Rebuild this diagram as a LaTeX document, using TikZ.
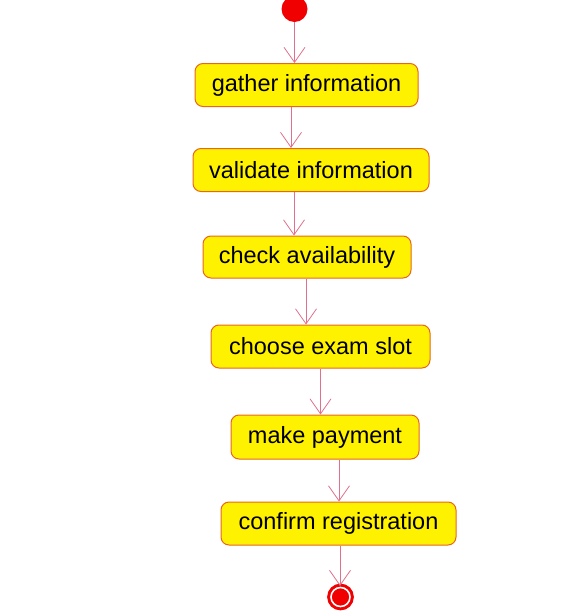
\documentclass[tikz,border=0pt]{standalone}
\usepackage{fontspec}
\setmainfont{Liberation Sans}
\usepackage{tikz}
\usetikzlibrary{arrows.meta}

\definecolor{boxline}{HTML}{E8661A}
\definecolor{flowline}{HTML}{E0708C}
\definecolor{dotred}{HTML}{F00000}

\begin{document}
\begin{tikzpicture}[x=1pt, y=-1pt,
    activity/.style={rectangle, rounded corners=8pt, draw=boxline, line width=1pt,
      fill=yellow, inner sep=0pt, minimum height=43pt, font=\fontsize{23.5}{26}\selectfont},
    flow/.style={draw=flowline, line width=0.8pt, -{Straight Barb[length=15pt, width=21pt, line width=0.8pt]}}]
  \useasboundingbox (0,0) rectangle (562,613);
  \node (start) [circle, fill=dotred, minimum size=26pt, inner sep=0pt] at (294.5,9) {};
  \node (gather) [activity, minimum width=223pt] at (306.5,85) {gather information};
  \node (validate) [activity, minimum width=236pt] at (311,170) {validate information};
  \node (check) [activity, minimum width=208pt, minimum height=42pt] at (307,257) {check availability};
  \node (choose) [activity, minimum width=219pt] at (320.5,346.5) {choose exam slot};
  \node (payment) [activity, minimum width=188pt, minimum height=44pt] at (325,437) {make payment};
  \node (confirm) [activity, minimum width=235pt] at (338.5,523.5) {confirm registration};
  \node (finish) [circle, draw=dotred, line width=3pt, fill=dotred, double=white,
    double distance=1.6pt, minimum size=19pt, inner sep=0pt] at (340.5,597) {};
  \draw[flow] (start) -- (start |- gather.north);
  \draw[flow] ([xshift=-15.5pt]gather.south) -- ([xshift=-15.5pt]gather.south |- validate.north);
  \draw[flow] ([xshift=-17pt]validate.south) -- ([xshift=-17pt]validate.south |- check.north);
  \draw[flow] ([xshift=-1pt]check.south) -- ([xshift=-1pt]check.south |- choose.north);
  \draw[flow] (choose.south) -- (choose.south |- payment.north);
  \draw[flow] ([xshift=14pt]payment.south) -- ([xshift=14pt]payment.south |- confirm.north);
  \draw[flow] ([xshift=1.5pt]confirm.south) -- ([xshift=1.5pt]confirm.south |- finish.north);
\end{tikzpicture}
\end{document}
